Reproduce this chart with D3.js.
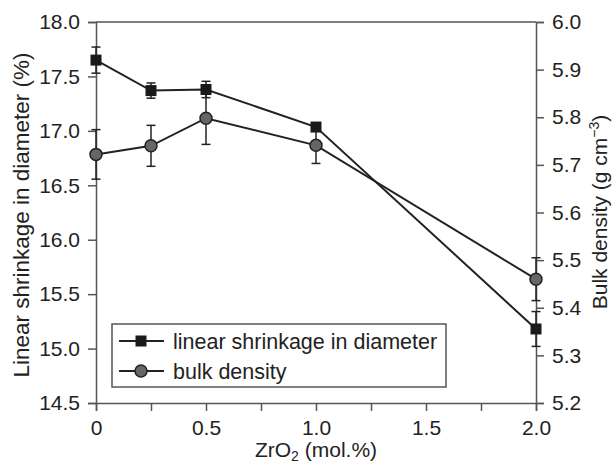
<!DOCTYPE html>
<html>
<head>
<meta charset="utf-8">
<script src="https://cdn.jsdelivr.net/npm/d3@7"></script>
<style>
  body { margin: 0; background: #fff; }
  text { font-family: "Liberation Sans", Arial, sans-serif; fill: #222; }
</style>
</head>
<body>
<svg id="chart" width="616" height="466"></svg>
<script>
const zro2 = [0, 0.25, 0.5, 1.0, 2.0];
const shrinkage = [17.65, 17.37, 17.38, 17.035, 15.18];
const shrinkageErr = [0.12, 0.07, 0.075, 0.03, 0.16];
const density = [5.722, 5.740, 5.798, 5.741, 5.460];
const densityErr = [0.052, 0.043, 0.055, 0.038, 0.045];

const xTicks = [0, 0.25, 0.5, 0.75, 1.0, 1.25, 1.5, 1.75, 2.0];
const xLabels = ["0", "", "0.5", "", "1.0", "", "1.5", "", "2.0"];
const leftTicks = [14.5, 15.0, 15.5, 16.0, 16.5, 17.0, 17.5, 18.0];
const rightTicks = [5.2, 5.3, 5.4, 5.5, 5.6, 5.7, 5.8, 5.9, 6.0];

const svg = d3.select("#chart");
const plotL = 96, plotR = 536, plotT = 22, plotB = 403;
const axisColor = "#555";
const lineColor = "#222";

const x = d3.scaleLinear().domain([0, 2]).range([plotL, plotR]);
const yL = d3.scaleLinear().domain([14.5, 18]).range([plotB, plotT]);
const yR = d3.scaleLinear().domain([5.2, 6.0]).range([plotB, plotT]);

// top border
svg.append("line")
  .attr("x1", plotL).attr("x2", plotR)
  .attr("y1", plotT).attr("y2", plotT)
  .attr("stroke", axisColor).attr("stroke-width", 1.5);

const styleAxis = g => {
  g.select(".domain").attr("stroke", axisColor).attr("stroke-width", 1.5);
  g.selectAll(".tick line").attr("stroke", axisColor).attr("stroke-width", 1.5);
  g.selectAll(".tick text").style("font-size", "21px").attr("fill", "#222")
    .style("font-family", "'Liberation Sans', Arial, sans-serif");
};

svg.append("g")
  .attr("transform", `translate(0,${plotB})`)
  .call(d3.axisBottom(x).tickValues(xTicks).tickSizeOuter(0).tickSize(8).tickPadding(9)
    .tickFormat((d, i) => xLabels[i]))
  .call(styleAxis);

svg.append("g")
  .attr("transform", `translate(${plotL},0)`)
  .call(d3.axisLeft(yL).tickValues(leftTicks).tickSizeOuter(0).tickSize(8).tickPadding(8)
    .tickFormat(d3.format(".1f")))
  .call(styleAxis);

svg.append("g")
  .attr("transform", `translate(${plotR},0)`)
  .call(d3.axisRight(yR).tickValues(rightTicks).tickSizeOuter(0).tickSize(8).tickPadding(8)
    .tickFormat(d3.format(".1f")))
  .call(styleAxis);

// series lines
const lineL = d3.line().x((d, i) => x(zro2[i])).y(d => yL(d));
const lineR = d3.line().x((d, i) => x(zro2[i])).y(d => yR(d));

svg.append("path").datum(density)
  .attr("d", lineR).attr("fill", "none")
  .attr("stroke", lineColor).attr("stroke-width", 2);
svg.append("path").datum(shrinkage)
  .attr("d", lineL).attr("fill", "none")
  .attr("stroke", lineColor).attr("stroke-width", 2);

// error bars
function errorBars(vals, errs, y) {
  const g = svg.append("g").attr("stroke", lineColor).attr("stroke-width", 1.5);
  vals.forEach((v, i) => {
    const cx = x(zro2[i]);
    const y1 = y(v + errs[i]), y2 = y(v - errs[i]);
    g.append("line").attr("x1", cx).attr("x2", cx).attr("y1", y1).attr("y2", y2);
    g.append("line").attr("x1", cx - 4.5).attr("x2", cx + 4.5).attr("y1", y1).attr("y2", y1);
    g.append("line").attr("x1", cx - 4.5).attr("x2", cx + 4.5).attr("y1", y2).attr("y2", y2);
  });
}
errorBars(density, densityErr, yR);
errorBars(shrinkage, shrinkageErr, yL);

// markers
svg.append("g").selectAll("circle")
  .data(density).join("circle")
  .attr("cx", (d, i) => x(zro2[i])).attr("cy", d => yR(d))
  .attr("r", 6).attr("fill", "#666")
  .attr("stroke", lineColor).attr("stroke-width", 1.5);

svg.append("g").selectAll("rect")
  .data(shrinkage).join("rect")
  .attr("x", (d, i) => x(zro2[i]) - 5.5).attr("y", d => yL(d) - 5.5)
  .attr("width", 11).attr("height", 11).attr("fill", "#1a1a1a");

// legend
const lg = svg.append("g");
lg.append("rect").attr("x", 112).attr("y", 324).attr("width", 334).attr("height", 63)
  .attr("fill", "#fff").attr("stroke", axisColor).attr("stroke-width", 1.5);
const rows = [
  { label: "linear shrinkage in diameter", y: 341, shape: "square" },
  { label: "bulk density", y: 371, shape: "circle" }
];
rows.forEach(r => {
  lg.append("line").attr("x1", 119).attr("x2", 164).attr("y1", r.y).attr("y2", r.y)
    .attr("stroke", lineColor).attr("stroke-width", 2);
  if (r.shape === "square") {
    lg.append("rect").attr("x", 141 - 5.5).attr("y", r.y - 5.5)
      .attr("width", 11).attr("height", 11).attr("fill", "#1a1a1a");
  } else {
    lg.append("circle").attr("cx", 141).attr("cy", r.y).attr("r", 6)
      .attr("fill", "#666").attr("stroke", lineColor).attr("stroke-width", 1.5);
  }
  lg.append("text").attr("x", 173).attr("y", r.y).attr("dy", "0.36em")
    .style("font-size", "21.5px").text(r.label);
});

// axis titles
svg.append("text")
  .attr("transform", `translate(29,215) rotate(-90)`)
  .attr("text-anchor", "middle").style("font-size", "22.5px")
  .text("Linear shrinkage in diameter (%)");

const rt = svg.append("text")
  .attr("transform", `translate(607,212) rotate(-90)`)
  .attr("text-anchor", "middle").style("font-size", "21px");
rt.append("tspan").text("Bulk density (g cm");
rt.append("tspan").attr("dy", -8).style("font-size", "14px").text("−3");
rt.append("tspan").attr("dy", 8).text(")");

const xt = svg.append("text")
  .attr("x", (plotL + plotR) / 2).attr("y", 457)
  .attr("text-anchor", "middle").style("font-size", "21px");
xt.append("tspan").text("ZrO");
xt.append("tspan").attr("dy", 4).style("font-size", "14px").text("2");
xt.append("tspan").attr("dy", -4).text(" (mol.%)");
</script>
</body>
</html>
